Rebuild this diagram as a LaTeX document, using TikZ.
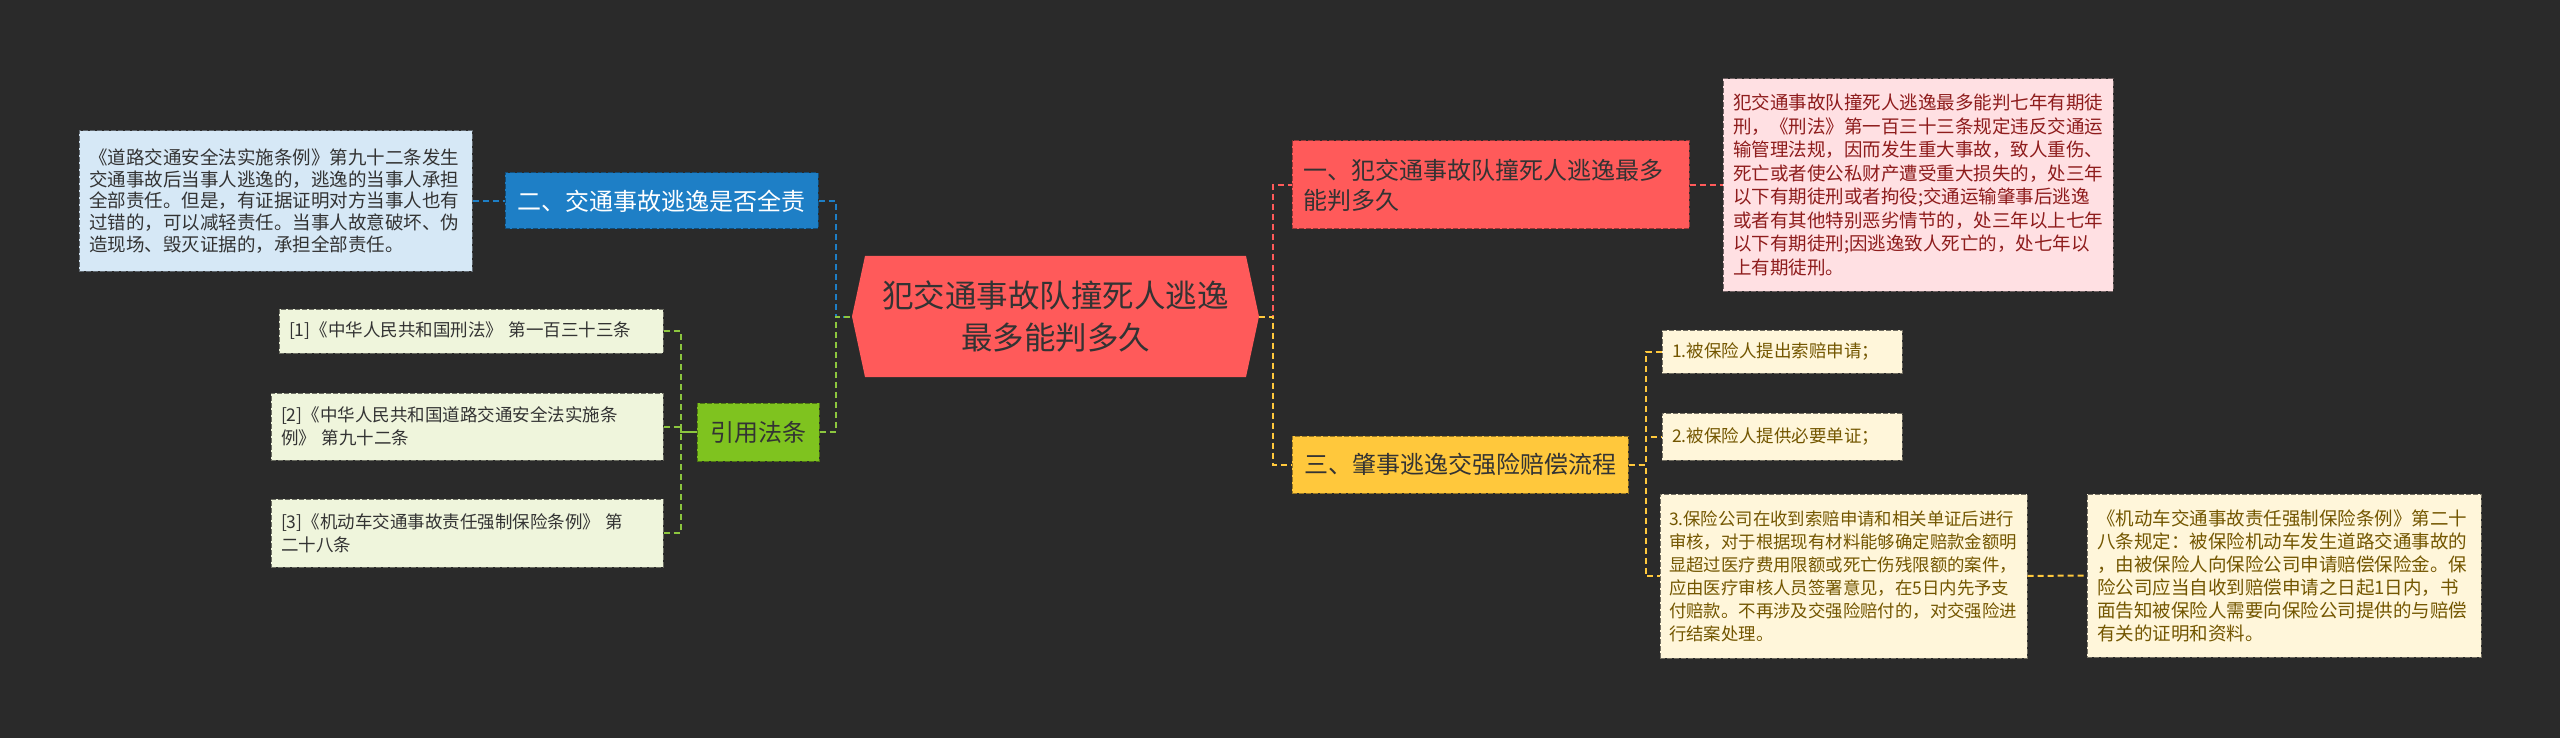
\documentclass[tikz,border=0pt]{standalone}
\usepackage{fontspec}
\setmainfont{Noto Sans CJK SC}
\usepackage{tikz}
\usetikzlibrary{positioning}
\definecolor{bgdark}{HTML}{2A2A2A}
\definecolor{rootred}{HTML}{FF5A5A}
\definecolor{pinkfill}{HTML}{FFE0E3}
\definecolor{pinktext}{HTML}{8E1C1C}
\definecolor{bluefill}{HTML}{1E7FC6}
\definecolor{lightblue}{HTML}{D6E8F6}
\definecolor{greenfill}{HTML}{7FC31F}
\definecolor{greenline}{HTML}{8CC63F}
\definecolor{lightgreen}{HTML}{EFF5DC}
\definecolor{yellowfill}{HTML}{FFC83C}
\definecolor{creamfill}{HTML}{FFF6DA}
\definecolor{creamtext}{HTML}{735600}
\definecolor{textdark}{HTML}{333333}

\begin{document}
\begin{tikzpicture}[x=1pt, y=-1pt,
    rootnode/.style={fill=bgdark, minimum width=407pt, minimum height=121pt, inner sep=0pt,
        align=center, text=textdark, font=\fontsize{31.5}{42}\selectfont,
        path picture={\fill[rootred] (path picture bounding box.west)
            -- ([xshift=13pt]path picture bounding box.north west)
            -- ([xshift=-13pt]path picture bounding box.north east)
            -- (path picture bounding box.east)
            -- ([xshift=-13pt]path picture bounding box.south east)
            -- ([xshift=13pt]path picture bounding box.south west) -- cycle;}},
    topic/.style={draw=#1!60!black, fill=#1, dash pattern=on 5pt off 2pt, line width=1pt,
        inner sep=0pt, font=\fontsize{24}{30}\selectfont},
    leaf/.style={draw=#1!45!black, fill=#1, dash pattern=on 5pt off 2pt, line width=1pt,
        inner xsep=10pt, inner ysep=0pt, align=left},
    link/.style={draw=#1, dash pattern=on 6pt off 4pt, line width=2pt}]
    \fill[bgdark] (0,0) rectangle (2560,738);
    \useasboundingbox (0,0) rectangle (2560,738);

    \node[rootnode] (root) at (1055.5,316.5) {犯交通事故队撞死人逃逸\\最多能判多久};

    \node[topic=bluefill, text=white, minimum width=313pt, minimum height=56pt] (law) at (661.5,201) {二、交通事故逃逸是否全责};
    \node[leaf=lightblue, text=textdark, text width=373pt, minimum height=140pt,
        font=\fontsize{18.5}{21.7}\selectfont] (lawtext) at (275.5,201)
        {《道路交通安全法实施条例》第九十二条发生\\交通事故后当事人逃逸的，逃逸的当事人承担\\全部责任。但是，有证据证明对方当事人也有\\过错的，可以减轻责任。当事人故意破坏、伪\\造现场、毁灭证据的，承担全部责任。};

    \node[topic=greenfill, text=textdark, minimum width=122pt, minimum height=58pt] (cite) at (758,432) {引用法条};
    \node[leaf=lightgreen, text=textdark, text width=364pt, minimum height=44pt,
        font=\fontsize{17.5}{23}\selectfont] (cite1) at (471,331) {[1]《中华人民共和国刑法》 第一百三十三条};
    \node[leaf=lightgreen, text=textdark, text width=372pt, minimum height=67pt,
        font=\fontsize{17.5}{23}\selectfont] (cite2) at (467,426.5) {[2]《中华人民共和国道路交通安全法实施条\\例》 第九十二条};
    \node[leaf=lightgreen, text=textdark, text width=372pt, minimum height=68pt,
        font=\fontsize{17.5}{23}\selectfont] (cite3) at (467,533) {[3]《机动车交通事故责任强制保险条例》 第\\二十八条};

    \node[topic=rootred, text=textdark, text width=375pt, align=left, inner xsep=11pt,
        minimum height=88pt] (term) at (1490.5,185) {一、犯交通事故队撞死人逃逸最多\\能判多久};
    \node[leaf=pinkfill, text=pinktext, text width=370pt, minimum height=212pt,
        font=\fontsize{18.5}{23.5}\selectfont] (termtext) at (1918,185)
        {犯交通事故队撞死人逃逸最多能判七年有期徒\\刑，《刑法》第一百三十三条规定违反交通运\\输管理法规，因而发生重大事故，致人重伤、\\死亡或者使公私财产遭受重大损失的，处三年\\以下有期徒刑或者拘役;交通运输肇事后逃逸\\或者有其他特别恶劣情节的，处三年以上七年\\以下有期徒刑;因逃逸致人死亡的，处七年以\\上有期徒刑。};

    \node[topic=yellowfill, text=textdark, minimum width=336pt, minimum height=57pt] (claim) at (1460,464.5) {三、肇事逃逸交强险赔偿流程};
    \node[leaf=creamfill, text=creamtext, text width=220pt, minimum height=43pt,
        font=\fontsize{17.5}{23}\selectfont] (step1) at (1782,351.5) {1.被保险人提出索赔申请；};
    \node[leaf=creamfill, text=creamtext, text width=220pt, minimum height=47pt,
        font=\fontsize{17.5}{23}\selectfont] (step2) at (1782,436.5) {2.被保险人提供必要单证；};
    \node[leaf=creamfill, text=creamtext, text width=349pt, inner xsep=9pt, minimum height=164pt,
        font=\fontsize{17.4}{23}\selectfont] (step3) at (1843.5,576)
        {3.保险公司在收到索赔申请和相关单证后进行\\审核，对于根据现有材料能够确定赔款金额明\\显超过医疗费用限额或死亡伤残限额的案件，\\应由医疗审核人员签署意见，在5日内先予支\\付赔款。不再涉及交强险赔付的，对交强险进\\行结案处理。};
    \node[leaf=creamfill, text=creamtext, text width=374pt, minimum height=163pt,
        font=\fontsize{18.5}{23}\selectfont] (rule28) at (2284,575.5)
        {《机动车交通事故责任强制保险条例》第二十\\八条规定：被保险机动车发生道路交通事故的\\，由被保险人向保险公司申请赔偿保险金。保\\险公司应当自收到赔偿申请之日起1日内，书\\面告知被保险人需要向保险公司提供的与赔偿\\有关的证明和资料。};

    \draw[link=bluefill] (lawtext.east) -- (law.west);
    \draw[link=bluefill] (law.east) -- ++(17,0) |- (root.west);
    \draw[link=greenline] (cite.east) -- ++(16,0) |- (root.west);
    \draw[link=greenline] (cite1.east) -- ++(17,0) |- (cite.west);
    \draw[link=greenline] (cite2.east) -- ++(17,0) |- (cite.west);
    \draw[link=greenline] (cite3.east) -- ++(17,0) |- (cite.west);

    \draw[link=rootred] (root.east) -- ++(14,0) |- (term.west);
    \draw[link=rootred] (term.east) -- (termtext.west);
    \draw[link=yellowfill] (root.east) -- ++(14,0) |- (claim.west);
    \draw[link=yellowfill] (claim.east) -- ++(17,0) |- (step1.west);
    \draw[link=yellowfill] (claim.east) -- ++(17,0) |- (step2.west);
    \draw[link=yellowfill] (claim.east) -- ++(17,0) |- (step3.west);
    \draw[link=yellowfill] (step3.east) -- (rule28.west);
\end{tikzpicture}
\end{document}
